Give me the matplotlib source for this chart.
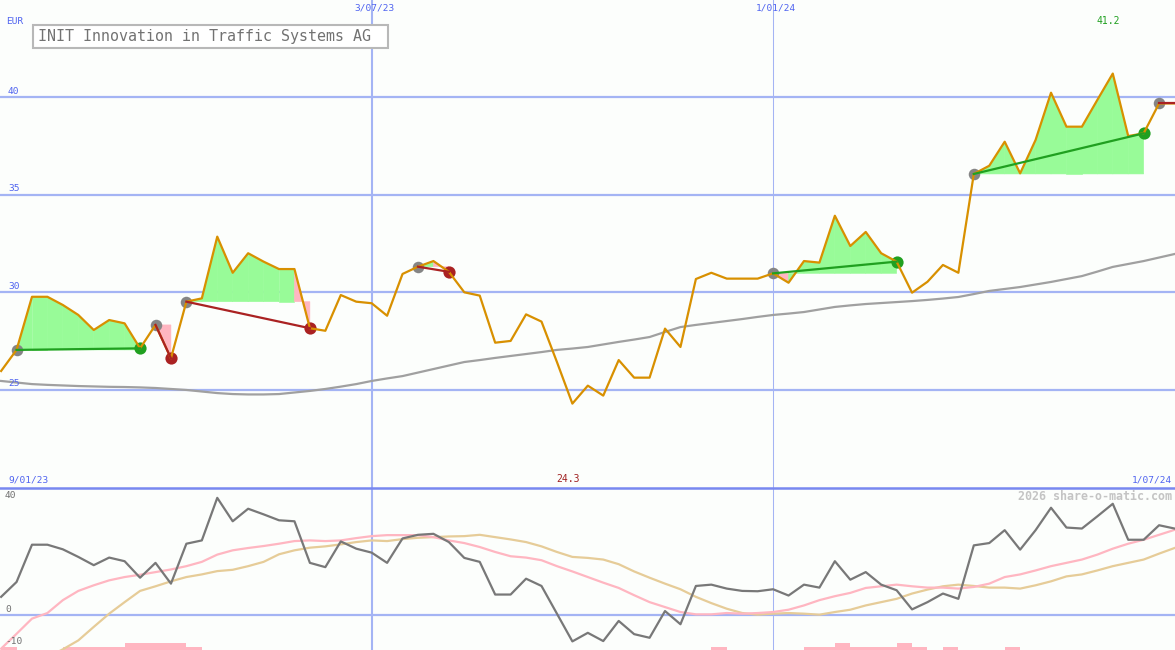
import numpy as np
import pandas as pd
import matplotlib
matplotlib.use('Agg')
import matplotlib.pyplot as plt
import matplotlib.dates as mdates
from matplotlib.patches import Polygon, Rectangle
from matplotlib.lines import Line2D

# weekly closes (EUR), one point per Monday
dates = pd.date_range('2023-01-16', periods=77, freq='7D')
price = [25.97, 27.05, 29.77, 29.77, 29.35, 28.84, 28.07, 28.58, 28.41, 27.13,
         28.33, 26.62, 29.52, 29.69, 32.85, 31.00, 32.00, 31.57, 31.19, 31.19,
         28.16, 28.03, 29.86, 29.52, 29.44, 28.80, 30.94, 31.31, 31.60, 31.05,
         30.00, 29.83, 27.42, 27.51, 28.87, 28.50, 26.43, 24.30, 25.22, 24.71,
         26.53, 25.63, 25.63, 28.14, 27.20, 30.68, 31.00, 30.70, 30.70, 30.70,
         30.97, 30.49, 31.60, 31.52, 33.92, 32.37, 33.09, 32.00, 31.57, 29.98,
         30.54, 31.40, 31.00, 36.06, 36.48, 37.71, 36.09, 37.80, 40.22, 38.48,
         38.48, 39.85, 41.20, 38.00, 38.14, 39.67, 39.67]
# long moving average
ma_long = [25.46, 25.38, 25.30, 25.26, 25.23, 25.20, 25.18, 25.16, 25.15, 25.13,
           25.10, 25.05, 25.00, 24.92, 24.84, 24.79, 24.77, 24.77, 24.79, 24.87,
           24.95, 25.05, 25.17, 25.30, 25.46, 25.59, 25.71, 25.89, 26.07, 26.25,
           26.43, 26.53, 26.64, 26.74, 26.84, 26.94, 27.05, 27.12, 27.20, 27.33,
           27.46, 27.58, 27.71, 27.97, 28.22, 28.33, 28.43, 28.53, 28.63, 28.74,
           28.84, 28.91, 28.99, 29.12, 29.25, 29.33, 29.40, 29.45, 29.50, 29.55,
           29.61, 29.68, 29.76, 29.91, 30.07, 30.17, 30.27, 30.40, 30.53, 30.68,
           30.83, 31.06, 31.30, 31.45, 31.60, 31.78, 31.96]

# oscillator panel
osc = [5.5, 10.0, 21.3, 21.3, 19.9, 17.6, 15.1, 17.4, 16.3, 11.3,
       15.8, 9.5, 21.6, 22.6, 35.5, 28.4, 32.2, 30.5, 28.7, 28.4,
       15.8, 14.5, 22.3, 20.1, 18.9, 15.8, 23.2, 24.3, 24.6, 22.1,
       17.3, 16.1, 6.2, 6.2, 11.0, 8.8, 0.4, -8.0, -5.4, -7.9,
       -1.8, -5.8, -6.9, 1.2, -2.8, 8.8, 9.2, 8.0, 7.3, 7.2,
       7.8, 5.9, 9.2, 8.3, 16.3, 10.7, 13.0, 9.2, 7.5, 1.7,
       3.9, 6.5, 4.9, 21.1, 21.8, 25.7, 19.8, 25.7, 32.5, 26.5,
       26.2, 29.9, 33.7, 22.8, 22.8, 27.2, 26.2]
osc_fast = [-10.2, -5.7, -1.1, 0.6, 4.5, 7.3, 9.0, 10.5, 11.5, 12.2,
            13.0, 13.8, 14.8, 16.1, 18.3, 19.6, 20.3, 20.9, 21.6, 22.4,
            22.6, 22.4, 22.6, 23.3, 23.9, 24.2, 24.2, 24.2, 23.6, 22.6,
            21.8, 20.6, 19.1, 17.8, 17.4, 16.6, 14.8, 13.2, 11.5, 9.8,
            8.2, 6.0, 3.9, 2.4, 0.9, 0.2, 0.2, 0.6, 0.4, 0.6,
            0.9, 1.6, 2.9, 4.5, 5.7, 6.7, 8.2, 8.7, 9.2, 8.7,
            8.3, 8.3, 8.0, 8.5, 9.5, 11.5, 12.3, 13.5, 14.8, 15.8,
            16.8, 18.3, 20.1, 21.6, 22.8, 24.3, 25.8]
osc_slow = [-20.0, -17.5, -15.2, -12.8, -10.4, -7.7, -3.6, 0.4, 3.9, 7.3,
            8.7, 10.2, 11.5, 12.3, 13.3, 13.7, 14.8, 16.1, 18.4, 19.6,
            20.4, 20.8, 21.4, 22.1, 22.6, 22.4, 23.0, 23.4, 23.6, 23.8,
            23.9, 24.3, 23.6, 22.9, 22.1, 20.8, 19.1, 17.6, 17.3, 16.8,
            15.4, 13.2, 11.3, 9.5, 7.8, 5.5, 3.6, 1.9, 0.6, 0.1,
            0.4, 0.6, 0.4, 0.1, 0.9, 1.6, 2.9, 3.9, 4.9, 6.5,
            7.7, 8.7, 9.2, 8.8, 8.3, 8.3, 8.0, 9.0, 10.2, 11.7,
            12.3, 13.5, 14.8, 15.8, 16.8, 18.6, 20.3]
# small pink bars at the bottom (week index -> height)
bar_weeks = [0, 4, 5, 6, 7, 8, 9, 10, 11, 12, 46, 52, 53, 54, 55, 56, 57, 58, 59, 61, 65]
bar_heights = [1, 1, 1, 1, 1, 2, 2, 2, 2, 1, 1, 1, 1, 2, 1, 1, 1, 2, 1, 1, 1]

# trades: entry week, exit week (last one still open)
entry_idx = [1, 10, 12, 27, 50, 63, 75]
exit_idx = [9, 11, 20, 29, 58, 74, 76]
open_trade = [False, False, False, False, False, False, True]

title = 'INIT Innovation in Traffic Systems AG'
price_ticks = [25, 30, 35, 40]
osc_ticks = [40, 0, -10]
vlines = ['2023-07-03', '2024-01-01']
vline_labels = ['3/07/23', '1/01/24']
range_labels = ['9/01/23', '1/07/24']

# colours
BG = '#fcfefc'
GRID = '#a4b4f4'
BLUE_TXT = '#5064f0'
ORANGE = '#d89000'
GREEN = '#20a020'
RED = '#aa2222'
GREEN_FILL = '#98fb98'
PINK = '#ffb6c1'
TAN = '#e6cc98'
MONO = 'DejaVu Sans Mono'

W, H = 1175, 650
def fx(px):
    return px / W
def fy(py):
    return 1 - py / H

xs = mdates.date2num(dates.to_pydatetime())
x_left = xs[0] - 0.5
x_right = x_left + W / 2.2057

fig = plt.figure(figsize=(11.75, 6.5), dpi=100, facecolor=BG)
ax1 = fig.add_axes([0, fy(487), 1, 487 / H])
ax2 = fig.add_axes([0, 0, 1, fy(487)])

for ax in (ax1, ax2):
    ax.set_axis_off()
    ax.set_xlim(x_left, x_right)
    for d, lw in zip(vlines, [1.5, 0.75]):
        ax.axvline(mdates.date2num(pd.Timestamp(d).to_pydatetime()), color=GRID, lw=lw, zorder=1)

# ---- price panel
ax1.set_ylim(40 - 390 / 19.53, 40 + 97 / 19.53)
for v in price_ticks:
    ax1.axhline(v, color=GRID, lw=1.6, zorder=1)
    ax1.annotate(str(v), xy=(0, v), xycoords=ax1.get_yaxis_transform(),
                 xytext=(8, 6), textcoords='offset pixels', va='center', ha='left',
                 fontsize=6.8, family=MONO, color=BLUE_TXT)

ax1.plot(xs, ma_long, color='#a0a0a0', lw=1.6, zorder=2)

# fill between price and entry level, segment by segment
for e, x_, op in zip(entry_idx, exit_idx, open_trade):
    E = price[e]
    if not op:
        for i in range(e, x_):
            c = GREEN_FILL if price[i + 1] >= E else PINK
            poly = [(xs[i], price[i]), (xs[i + 1], price[i + 1]), (xs[i + 1], E), (xs[i], E)]
            ax1.add_patch(Polygon(poly, closed=True, fc=c, ec=c, lw=0.4, zorder=2))

ax1.plot(xs, price, color=ORANGE, lw=1.6, zorder=4)

for e, x_, op in zip(entry_idx, exit_idx, open_trade):
    E = price[e]
    if op:
        ax1.plot([xs[e], xs[x_]], [E, E], color=RED, lw=1.6, zorder=5)
    else:
        c = GREEN if price[x_] > E else RED
        ax1.plot([xs[e], xs[x_]], [E, price[x_]], color=c, lw=1.6, zorder=5)
        ax1.plot(xs[x_], price[x_], 'o', ms=8.8, color=c, mec='none', zorder=3)
    ax1.plot(xs[e], E, 'o', ms=8.3, color='#858585', mec='none', zorder=3)

# top labels
for d, lab in zip(vlines, vline_labels):
    ax1.annotate(lab, xy=(mdates.date2num(pd.Timestamp(d).to_pydatetime()), 1),
                 xycoords=ax1.get_xaxis_transform(), xytext=(3, -8), textcoords='offset pixels',
                 ha='center', va='center', fontsize=6.8, family=MONO, color=BLUE_TXT)
fig.text(fx(6), fy(21.5), 'EUR', fontsize=6.8, family=MONO, color=BLUE_TXT, va='center', ha='left')

imax = int(np.argmax(price))
imin = int(np.argmin(price))
ax1.annotate(f'{price[imax]:.1f}', xy=(xs[imax], 1), xycoords=ax1.get_xaxis_transform(),
             xytext=(-5, -21), textcoords='offset pixels', ha='center', va='center',
             fontsize=7, family=MONO, color=GREEN)
ax1.annotate(f'{price[imin]:.1f}', xy=(xs[imin], 0), xycoords=ax1.get_xaxis_transform(),
             xytext=(-4, 8), textcoords='offset pixels', ha='center', va='center',
             fontsize=7, family=MONO, color='#a02020')

# title box
fig.patches.append(Rectangle((fx(33), fy(48)), fx(355), 23 / H, transform=fig.transFigure,
                             fc='white', ec='#b8b8b8', lw=1.5, zorder=6))
fig.text(fx(38), fy(36.5), title, fontsize=10.8, family=MONO, color='#727272',
         va='center', ha='left', zorder=7)

# range labels above separator
fig.text(fx(8), fy(480), range_labels[0], fontsize=6.8, family=MONO, color=BLUE_TXT,
         va='center', ha='left')
fig.text(fx(1172), fy(480), range_labels[1], fontsize=6.8, family=MONO, color=BLUE_TXT,
         va='center', ha='right')

# separator
fig.lines.append(Line2D([0, 1], [fy(488), fy(488)], transform=fig.transFigure,
                        color='#7888f0', lw=1.8, zorder=8))

# ---- oscillator panel
ax2.set_ylim((615 - 650) / 3.3, (615 - 487) / 3.3)
ax2.axhline(0, color=GRID, lw=1.6, zorder=1)
ax2.bar(xs[bar_weeks], bar_heights, width=7, align='edge', bottom=ax2.get_ylim()[0],
        color=PINK, zorder=2)
ax2.plot(xs, osc_slow, color=TAN, lw=1.6, zorder=3)
ax2.plot(xs, osc_fast, color=PINK, lw=1.6, zorder=3)
ax2.plot(xs, osc, color='#787878', lw=1.6, zorder=4)

for lab, py in zip(osc_ticks, [496, 610, 642]):
    fig.text(fx(5), fy(py), str(lab), fontsize=6.8, family=MONO, color='#707070',
             va='center', ha='left')
fig.text(fx(1172), fy(496), '2026 share-o-matic.com', fontsize=8.4, family=MONO,
         weight='bold', color='#c4c4c4', va='center', ha='right')

fig.savefig('out.png', dpi=100, facecolor=BG)
